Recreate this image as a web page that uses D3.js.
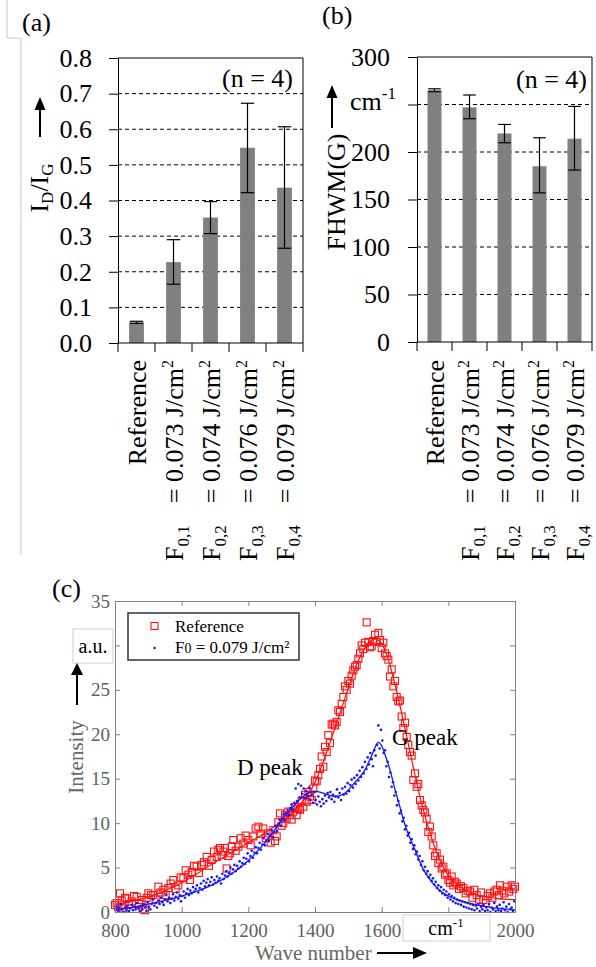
<!DOCTYPE html>
<meta charset="utf-8">
<style>
body { margin: 0; background: #fff; }
text { font-family: "Liberation Serif", "Times New Roman", serif; }
</style>
<svg width="596" height="967"></svg>
<script src="https://cdn.jsdelivr.net/npm/d3@7/dist/d3.min.js"></script>
<script>

// ---- data: panels (a) and (b) ----
var categories = ["Reference", "F0,1", "F0,2", "F0,3", "F0,4"];
var subscripts = [null, "0,1", "0,2", "0,3", "0,4"];
var fluences = [null, "0.073", "0.074", "0.076", "0.079"];

var ratioVals = [0.058, 0.227, 0.352, 0.548, 0.436];
var ratioLo   = [0.055, 0.165, 0.307, 0.422, 0.266];
var ratioHi   = [0.061, 0.290, 0.397, 0.673, 0.607];
var ratioTicks = [0, 0.1, 0.2, 0.3, 0.4, 0.5, 0.6, 0.7, 0.8];

var fwhmVals = [265, 247, 219.5, 185, 214];
var fwhmLo   = [263.5, 235, 209.7, 157, 181];
var fwhmHi   = [266.5, 260, 229, 215, 248];
var fwhmTicks = [0, 50, 100, 150, 200, 250, 300];

// ---- data: panel (c), [wave number, intensity] ----
var refPoints = [[800,0.8],[805,1.0],[810,0.6],[815,2.1],[820,1.3],[825,0.4],[830,1.6],[835,1.5],[842,0.9],[850,1.2],[857,1.8],[865,1.7],[872,0.9],[880,1.35],[885,0.3],[890,0.2],[895,1.6],[900,2.1],[908,1.9],[915,1.9],[922,1.4],[930,2.85],[937,2.2],[945,2.5],[952,1.9],[960,2.7],[967,3.2],[975,3.6],[982,2.6],[990,3.0],[997,3.9],[1005,3.8],[1012,4.7],[1020,4.2],[1025,3.6],[1030,4.5],[1037,5.2],[1045,5.1],[1052,4.4],[1060,5.3],[1067,5.6],[1075,6.2],[1082,5.2],[1090,5.85],[1097,6.8],[1105,6.2],[1110,7.0],[1115,7.2],[1120,6.4],[1125,6.8],[1130,7.2],[1135,4.9],[1140,6.3],[1145,6.6],[1150,7.4],[1155,8.1],[1162,6.9],[1170,7.35],[1177,8.3],[1185,7.7],[1192,8.6],[1200,8.1],[1207,7.5],[1215,8.5],[1222,9.4],[1230,9.6],[1237,8.8],[1245,9.4],[1252,8.3],[1260,8.85],[1267,7.8],[1275,9.2],[1280,8.0],[1285,8.5],[1290,10.1],[1295,11.1],[1300,9.7],[1305,10.0],[1310,10.9],[1315,10.5],[1320,11.3],[1325,10.9],[1330,10.4],[1335,11.3],[1340,11.8],[1345,10.9],[1350,11.6],[1355,11.5],[1360,12.5],[1365,11.85],[1370,13.2],[1375,12.4],[1380,13.5],[1385,13.0],[1390,12.6],[1395,13.9],[1400,14.8],[1405,14.7],[1410,15.4],[1415,16.1],[1420,17.5],[1425,16.35],[1430,18.6],[1435,18.0],[1440,19.9],[1445,19.0],[1450,21.1],[1455,21.2],[1460,21.0],[1465,21.4],[1470,22.7],[1475,22.5],[1480,23.4],[1485,24.2],[1490,25.4],[1495,25.0],[1500,26.0],[1505,25.7],[1510,26.6],[1515,27.2],[1520,27.6],[1525,27.8],[1530,28.5],[1535,29.1],[1540,30.0],[1545,29.6],[1550,30.3],[1555,32.6],[1560,30.4],[1565,29.8],[1570,29.9],[1575,30.5],[1580,31.2],[1585,30.4],[1590,31.4],[1595,30.6],[1600,29.7],[1605,30.3],[1610,29.1],[1615,28.8],[1620,28.4],[1625,26.5],[1630,27.3],[1635,25.4],[1640,26.0],[1645,24.2],[1650,23.7],[1655,23.8],[1660,22.0],[1665,20.7],[1670,21.3],[1675,19.7],[1680,18.8],[1685,18.0],[1690,17.6],[1695,14.85],[1700,15.6],[1705,14.1],[1710,14.4],[1715,12.6],[1720,12.0],[1725,11.5],[1730,11.2],[1735,10.5],[1740,9.0],[1745,9.6],[1750,8.5],[1755,7.5],[1760,6.3],[1765,6.6],[1770,5.5],[1775,5.9],[1780,4.9],[1785,5.1],[1790,4.2],[1795,4.35],[1800,3.6],[1805,3.3],[1810,4.0],[1815,3.0],[1820,3.4],[1825,3.2],[1832,2.6],[1838,2.9],[1845,2.7],[1852,2.1],[1858,2.4],[1865,2.3],[1872,1.6],[1878,2.5],[1885,1.9],[1892,1.4],[1898,2.2],[1905,1.35],[1912,1.0],[1918,1.8],[1925,2.1],[1932,1.6],[1938,2.3],[1945,2.5],[1952,1.9],[1955,3.0],[1962,2.4],[1968,2.1],[1975,2.85],[1982,2.3],[1990,3.0],[1995,2.6],[2000,2.85]];

var refFit = [[800,0.8],[850,1.2],[900,1.7],[950,2.4],[1000,3.3],[1050,4.4],[1100,5.6],[1150,6.7],[1200,7.8],[1250,8.9],[1300,10.2],[1350,11.9],[1400,14.6],[1450,19.6],[1500,25.2],[1530,28.3],[1560,30.2],[1580,30.7],[1600,30.2],[1620,28.4],[1650,24.0],[1680,18.9],[1700,15.4],[1720,12.2],[1750,8.3],[1775,5.8],[1800,4.1],[1850,2.5],[1900,1.8],[1950,1.5],[2000,1.4]];

var laserPoints = [[802,0.2],[806,0.6],[810,0.1],[814,0.4],[818,0.9],[822,0.3],[826,0.0],[830,0.5],[834,0.2],[838,0.7],[842,0.1],[846,0.4],[850,0.8],[854,0.2],[858,0.6],[862,0.3],[866,1.0],[870,0.4],[874,0.1],[878,0.7],[882,0.3],[886,0.9],[890,0.5],[894,0.1],[898,1.1],[902,0.6],[906,0.3],[910,0.9],[914,1.4],[918,0.7],[922,1.0],[926,0.5],[930,1.3],[934,0.9],[938,1.6],[942,1.1],[946,0.8],[950,1.4],[954,1.9],[958,1.2],[962,1.6],[966,1.0],[970,1.5],[974,2.0],[978,1.3],[982,1.7],[986,2.2],[990,1.5],[994,1.9],[998,1.2],[1002,1.8],[1006,2.3],[1010,1.6],[1014,2.1],[1018,2.6],[1022,1.9],[1026,2.4],[1030,2.1],[1034,2.8],[1038,2.3],[1042,2.6],[1046,3.0],[1050,2.2],[1054,2.7],[1058,3.2],[1062,2.5],[1066,3.5],[1070,2.9],[1074,3.3],[1078,3.7],[1082,3.0],[1086,3.4],[1090,3.9],[1094,3.1],[1098,3.6],[1102,3.3],[1106,4.0],[1110,3.5],[1114,3.8],[1118,3.2],[1122,4.3],[1126,3.7],[1130,4.1],[1134,4.6],[1138,4.0],[1142,4.4],[1146,5.0],[1150,4.3],[1154,4.8],[1158,5.3],[1162,4.6],[1166,5.2],[1170,4.9],[1174,5.7],[1178,5.1],[1182,5.5],[1186,6.1],[1190,5.4],[1194,6.0],[1198,6.6],[1202,5.7],[1206,6.3],[1210,6.9],[1214,6.1],[1218,6.7],[1222,7.3],[1226,6.6],[1230,7.2],[1234,7.8],[1238,7.0],[1242,7.6],[1246,8.3],[1250,7.5],[1254,8.1],[1258,8.8],[1262,8.0],[1266,8.6],[1270,9.2],[1274,8.4],[1278,9.0],[1282,9.7],[1286,9.1],[1290,9.9],[1294,10.4],[1298,9.7],[1302,10.5],[1306,11.0],[1310,10.3],[1314,11.1],[1318,11.5],[1322,10.9],[1326,11.7],[1330,12.1],[1334,11.5],[1338,12.3],[1342,13.9],[1346,12.5],[1350,14.4],[1354,12.9],[1358,14.2],[1362,13.3],[1366,13.9],[1370,12.8],[1374,13.6],[1378,13.0],[1382,14.0],[1386,12.6],[1390,13.2],[1394,12.3],[1398,13.5],[1402,12.6],[1406,12.1],[1410,13.0],[1414,12.4],[1418,11.9],[1422,12.7],[1426,12.2],[1430,13.1],[1434,12.5],[1438,13.4],[1442,12.9],[1446,13.5],[1450,12.7],[1454,13.2],[1458,12.4],[1462,13.0],[1466,13.8],[1470,12.9],[1474,13.4],[1478,12.6],[1482,13.9],[1486,13.2],[1490,14.1],[1494,13.3],[1498,14.5],[1502,13.6],[1506,14.3],[1510,14.9],[1514,14.0],[1518,15.1],[1522,14.4],[1526,15.4],[1530,14.8],[1534,15.9],[1538,15.2],[1542,16.3],[1546,15.6],[1550,16.9],[1554,16.1],[1558,17.4],[1562,16.6],[1566,17.9],[1570,17.2],[1574,16.4],[1578,18.2],[1582,17.6],[1586,18.8],[1590,21.0],[1594,18.4],[1598,20.5],[1602,19.3],[1606,17.9],[1610,18.2],[1614,16.4],[1618,16.9],[1622,15.2],[1626,15.7],[1630,14.1],[1634,14.6],[1638,13.1],[1642,13.5],[1646,12.0],[1650,12.5],[1654,11.1],[1658,11.4],[1662,10.2],[1666,10.6],[1670,9.3],[1674,9.7],[1678,8.6],[1682,8.9],[1686,7.8],[1690,8.2],[1694,7.1],[1698,7.5],[1702,6.5],[1706,6.8],[1710,5.9],[1714,6.3],[1718,5.3],[1722,5.7],[1726,4.7],[1730,5.1],[1734,4.3],[1738,4.6],[1742,3.9],[1746,4.2],[1750,3.5],[1754,3.8],[1758,3.1],[1762,3.4],[1766,2.7],[1770,3.0],[1774,2.4],[1778,2.8],[1782,2.1],[1786,2.5],[1790,1.9],[1794,2.3],[1798,1.6],[1802,2.0],[1806,1.4],[1810,1.8],[1814,1.2],[1818,1.6],[1822,1.0],[1826,1.4],[1830,0.9],[1834,1.3],[1838,0.8],[1842,1.2],[1846,0.6],[1850,1.1],[1854,0.5],[1858,1.0],[1862,0.4],[1866,0.9],[1870,0.3],[1874,0.8],[1878,0.2],[1882,0.7],[1886,0.4],[1890,0.9],[1894,0.1],[1898,0.6],[1902,0.3],[1906,0.8],[1910,0.1],[1914,0.5],[1918,0.2],[1922,0.9],[1926,0.0],[1930,0.5],[1934,0.3],[1938,1.0],[1942,0.1],[1946,0.6],[1950,0.2],[1954,0.8],[1958,0.1],[1962,0.4],[1966,1.1],[1970,0.2],[1974,0.6],[1978,0.0],[1982,0.9],[1986,0.3],[1990,0.5],[1994,0.1],[1998,1.2]];

var laserFit = [[800,0.3],[850,0.5],[900,0.9],[950,1.3],[1000,1.8],[1050,2.4],[1100,3.2],[1150,4.3],[1200,5.8],[1250,7.8],[1300,10.3],[1350,12.5],[1380,13.4],[1400,13.6],[1430,13.3],[1460,13.0],[1490,13.4],[1520,14.6],[1550,16.0],[1570,17.6],[1590,19.1],[1600,18.7],[1612,17.5],[1625,16.0],[1640,13.8],[1655,11.8],[1670,9.8],[1685,8.3],[1700,7.0],[1725,4.8],[1750,3.4],[1775,2.4],[1800,1.8],[1850,1.1],[1900,0.7],[1950,0.4],[2000,0.25]];

var waveTicks = [800, 1000, 1200, 1400, 1600, 1800, 2000];
var intensityTicks = [0, 5, 10, 15, 20, 25, 30, 35];

var svg = d3.select("svg");
var serif = "Liberation Serif, Times New Roman, serif";

// faint frame line left of panel (a)
svg.append("path")
    .attr("d", "M7,0V38H21V555")
    .attr("fill", "none")
    .attr("stroke", "#c8c8c8");

function arrowUp(x, tip, tail, hw, hh) {
  svg.append("line").attr("x1", x).attr("x2", x).attr("y1", tip + hh - 1).attr("y2", tail)
      .attr("stroke", "#000").attr("stroke-width", 2);
  svg.append("path")
      .attr("d", "M" + x + "," + tip + "L" + (x - hw) + "," + (tip + hh) + "L" + (x + hw) + "," + (tip + hh) + "Z")
      .attr("fill", "#000");
}

function barPanel(o) {
  var x = d3.scaleBand().domain(categories).range([o.left, o.right])
      .paddingInner(0.6).paddingOuter(0.3);
  var y = d3.scaleLinear().domain([0, o.max]).range([o.bottom, o.top]);
  var g = svg.append("g");

  g.selectAll(".grid").data(o.grid).enter().append("line")
      .attr("x1", o.left).attr("x2", o.right)
      .attr("y1", function(d) { return y(d); }).attr("y2", function(d) { return y(d); })
      .attr("stroke", "#000").attr("stroke-width", 1).attr("stroke-dasharray", "4,3");

  g.selectAll(".bar").data(o.values).enter().append("rect")
      .attr("x", function(d, i) { return x(categories[i]); })
      .attr("width", x.bandwidth())
      .attr("y", function(d) { return y(d); })
      .attr("height", function(d) { return y(0) - y(d); })
      .attr("fill", "#808080");

  var cap = x.bandwidth() * 0.45;
  var err = g.selectAll(".err").data(o.values).enter().append("g")
      .attr("transform", function(d, i) { return "translate(" + (x(categories[i]) + x.bandwidth() / 2) + ",0)"; });
  err.append("line").attr("y1", function(d, i) { return y(o.lo[i]); }).attr("y2", function(d, i) { return y(o.hi[i]); });
  err.append("line").attr("x1", -cap).attr("x2", cap)
      .attr("y1", function(d, i) { return y(o.lo[i]); }).attr("y2", function(d, i) { return y(o.lo[i]); });
  err.append("line").attr("x1", -cap).attr("x2", cap)
      .attr("y1", function(d, i) { return y(o.hi[i]); }).attr("y2", function(d, i) { return y(o.hi[i]); });
  err.selectAll("line").attr("stroke", "#000").attr("stroke-width", 1.2);

  var ya = g.append("g").attr("transform", "translate(" + o.left + ",0)")
      .call(d3.axisLeft(y).tickValues(o.ticks).tickSize(9).tickSizeOuter(0).tickPadding(o.pad).tickFormat(o.fmt));
  ya.attr("font-family", serif).attr("font-size", 26);
  ya.selectAll("text").attr("fill", "#000");
  ya.selectAll("line, path").attr("stroke", "#000");

  // frame top/right and bottom axis
  g.append("path")
      .attr("d", "M" + o.left + "," + o.top + "H" + o.right + "V" + o.bottom + "H" + o.left)
      .attr("fill", "none").attr("stroke", "#000");
  var bounds = d3.range(categories.length + 1).map(function(i) { return o.left + i * x.step(); });
  g.selectAll(".xtick").data(bounds).enter().append("line")
      .attr("x1", function(d) { return d; }).attr("x2", function(d) { return d; })
      .attr("y1", o.bottom).attr("y2", o.bottom + 9)
      .attr("stroke", "#000");

  // category labels, rotated
  categories.forEach(function(c, i) {
    var cx = x(c) + x.bandwidth() / 2;
    var t = g.append("text")
        .attr("transform", "translate(" + cx + "," + o.labelTop + ") rotate(-90)")
        .attr("text-anchor", "end").attr("dy", "0.35em")
        .attr("font-size", 26);
    if (i === 0) { t.text("Reference"); return; }
    t.append("tspan").text("F");
    t.append("tspan").attr("font-size", 17).attr("dy", 6).text(subscripts[i]);
    t.append("tspan").attr("dy", -6).attr("dx", 22).text("= " + fluences[i] + " J/cm");
    t.append("tspan").attr("font-size", 16).attr("dy", -10).text("2");
  });

  g.append("text").attr("x", o.nx).attr("y", o.ny).attr("text-anchor", "end")
      .attr("font-size", 26).text("(n = 4)");
  return g;
}

// ---- panel (a) ----
barPanel({
  left: 118, right: 303, top: 58, bottom: 343, max: 0.8,
  values: ratioVals, lo: ratioLo, hi: ratioHi,
  ticks: ratioTicks, grid: [0.1, 0.2, 0.3, 0.4, 0.5, 0.6, 0.7],
  fmt: d3.format(".1f"), pad: 17, labelTop: 360, nx: 293, ny: 87
});
svg.append("text").attr("x", 22).attr("y", 31).attr("font-size", 26).text("(a)");
arrowUp(40, 97, 137, 5.5, 13);
var lab = svg.append("text").attr("transform", "translate(48,188) rotate(-90)")
    .attr("text-anchor", "middle").attr("font-size", 26);
lab.append("tspan").text("I");
lab.append("tspan").attr("font-size", 17).attr("dy", 5).text("D");
lab.append("tspan").attr("dy", -5).text("/I");
lab.append("tspan").attr("font-size", 17).attr("dy", 5).text("G");

// ---- panel (b) ----
// the 250 label is replaced by the unit "cm-1"
barPanel({
  left: 417, right: 592, top: 57, bottom: 342, max: 300,
  values: fwhmVals, lo: fwhmLo, hi: fwhmHi,
  ticks: fwhmTicks, grid: [50, 100, 150, 200, 250],
  fmt: function(d) { return d === 250 ? "" : d; }, pad: 18, labelTop: 360, nx: 587, ny: 88
});
svg.append("text").attr("x", 322).attr("y", 24).attr("font-size", 26).text("(b)");
arrowUp(332, 85, 128, 5.5, 13);
var cm = svg.append("text").attr("x", 350).attr("y", 110).attr("font-size", 26);
cm.append("tspan").text("cm");
cm.append("tspan").attr("font-size", 17).attr("dy", -11).text("-1");
svg.append("text").attr("transform", "translate(345,192) rotate(-90)")
    .attr("text-anchor", "middle").attr("font-size", 26).text("FHWM(G)");

// ---- panel (c) ----
var xs = d3.scaleLinear().domain([800, 2000]).range([115, 515]);
var ys = d3.scaleLinear().domain([0, 35]).range([912, 601]);
var gc = svg.append("g");

gc.selectAll(".sq").data(refPoints).enter().append("rect")
    .attr("x", function(d) { return xs(d[0]) - 3.5; })
    .attr("y", function(d) { return ys(d[1]) - 3.5; })
    .attr("width", 7).attr("height", 7)
    .attr("fill", "none").attr("stroke", "#ff1010").attr("stroke-width", 1.1);

var line = d3.line().x(function(d) { return xs(d[0]); }).y(function(d) { return ys(d[1]); })
    .curve(d3.curveMonotoneX);
gc.append("path").datum(refFit).attr("d", line)
    .attr("fill", "none").attr("stroke", "#ff1010").attr("stroke-width", 1.2);

gc.selectAll(".dot").data(laserPoints).enter().append("circle")
    .attr("cx", function(d) { return xs(d[0]); })
    .attr("cy", function(d) { return ys(d[1]); })
    .attr("r", 1.3).attr("fill", "#1515ff");
gc.append("path").datum(laserFit).attr("d", line)
    .attr("fill", "none").attr("stroke", "#1515ff").attr("stroke-width", 1.3);

function styleAxis(a) {
  a.attr("font-family", serif).attr("font-size", 19);
  a.selectAll("text").attr("fill", "#606060");
  a.selectAll("line, path").attr("stroke", "#808080");
}
// 1800 and 30 sit under the unit boxes, so they are left blank
styleAxis(gc.append("g").attr("transform", "translate(0,912)")
    .call(d3.axisBottom(xs).tickValues(waveTicks).tickSizeInner(-5).tickSizeOuter(0).tickPadding(12)
      .tickFormat(function(d) { return d === 1800 ? "" : d; })));
styleAxis(gc.append("g").attr("transform", "translate(115,0)")
    .call(d3.axisLeft(ys).tickValues(intensityTicks).tickSizeInner(-5).tickSizeOuter(0).tickPadding(5)
      .tickFormat(function(d) { return d === 30 ? "" : d; })));
styleAxis(gc.append("g").attr("transform", "translate(0,601)")
    .call(d3.axisTop(xs).tickValues(waveTicks).tickSizeInner(-5).tickSizeOuter(0).tickFormat(function() { return ""; })));
styleAxis(gc.append("g").attr("transform", "translate(515,0)")
    .call(d3.axisRight(ys).tickValues(intensityTicks).tickSizeInner(-5).tickSizeOuter(0).tickFormat(function() { return ""; })));

// legend
var lg = gc.append("g");
lg.append("rect").attr("x", 128).attr("y", 613).attr("width", 171).attr("height", 47)
    .attr("fill", "#fff").attr("stroke", "#333").attr("stroke-width", 1.5);
lg.append("rect").attr("x", 151).attr("y", 622.5).attr("width", 7).attr("height", 7)
    .attr("fill", "none").attr("stroke", "#ff1010").attr("stroke-width", 1.1);
lg.append("circle").attr("cx", 154.5).attr("cy", 648).attr("r", 1.3).attr("fill", "#1515ff");
lg.append("text").attr("x", 175).attr("y", 632).attr("font-size", 17).text("Reference");
var lt = lg.append("text").attr("x", 175).attr("y", 653).attr("font-size", 17);
lt.append("tspan").text("F");
lt.append("tspan").attr("font-size", 14).text("0");
lt.append("tspan").text(" = 0.079 J/cm\u00b2");

// peak labels
gc.append("text").attr("x", 237).attr("y", 775).attr("font-size", 23).text("D peak");
gc.append("text").attr("x", 392).attr("y", 745).attr("font-size", 23).text("G peak");

// unit boxes and arrows
gc.append("rect").attr("x", 73).attr("y", 629).attr("width", 40).attr("height", 34)
    .attr("fill", "#fff").attr("stroke", "#d0d0d0");
gc.append("text").attr("x", 93).attr("y", 653).attr("text-anchor", "middle").attr("font-size", 20).text("a.u.");
arrowUp(77, 663, 705, 6, 12);
gc.append("text").attr("transform", "translate(83,757) rotate(-90)")
    .attr("text-anchor", "middle").attr("font-size", 21).attr("fill", "#666").text("Intensity");

gc.append("rect").attr("x", 403).attr("y", 915).attr("width", 87).attr("height", 26)
    .attr("fill", "#fff").attr("stroke", "#d0d0d0");
var cmc = gc.append("text").attr("x", 446).attr("y", 935).attr("text-anchor", "middle").attr("font-size", 20);
cmc.append("tspan").text("cm");
cmc.append("tspan").attr("font-size", 13).attr("dy", -8).text("-1");

gc.append("text").attr("x", 255).attr("y", 960).attr("font-size", 21).attr("fill", "#666").text("Wave number");
gc.append("line").attr("x1", 377).attr("x2", 415).attr("y1", 953).attr("y2", 953)
    .attr("stroke", "#000").attr("stroke-width", 2);
gc.append("path").attr("d", "M427,953L413,947L413,959Z").attr("fill", "#000");

svg.append("text").attr("x", 52).attr("y", 597).attr("font-size", 26).text("(c)");

</script>
